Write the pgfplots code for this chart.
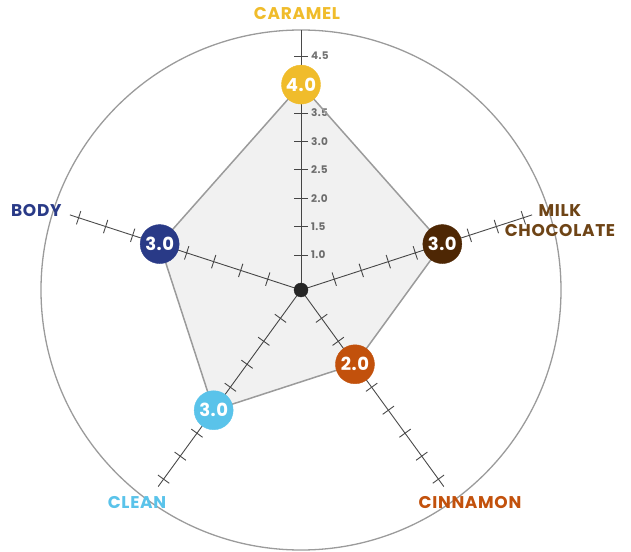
\documentclass[border=0pt]{standalone}
\usepackage{fontspec}
\setmainfont{Poppins}
\usepackage{pgfplots}
\pgfplotsset{compat=1.18}
\usepackage{pgfplotstable}

\definecolor{caramel}{HTML}{F0BC2B}
\definecolor{milkchoc}{HTML}{4E2704}
\definecolor{milklab}{HTML}{6E4416}
\definecolor{cinnamon}{HTML}{C2510C}
\definecolor{clean}{HTML}{5AC3EA}
\definecolor{body}{HTML}{293A87}
\definecolor{ringgray}{HTML}{9B9B9B}
\definecolor{spokegray}{HTML}{4A4A4A}
\definecolor{tickgray}{HTML}{737373}
\definecolor{dotc}{HTML}{262626}

\pgfplotstableread{
ang v
90 4.0
18 3.0
-54 2.0
-126 3.0
162 3.0
}\flavor

\pgfplotsset{
  /pgfplots/table/px/.style={
    x expr={(56.8*\thisrow{v}-21.8)*cos(\thisrow{ang})},
    y expr={(56.8*\thisrow{v}-21.8)*sin(\thisrow{ang})}},
  mk/.style={only marks, mark=*, mark size=19.5pt, draw=#1, fill=#1,
    visualization depends on={\thisrow{v}\as\val},
    nodes near coords={\pgfmathprintnumber[fixed,fixed zerofill,precision=1,assume math mode=true]{\val}},
    nodes near coords align=center,
    every node near coord/.append style={text=white, anchor=center, inner sep=0pt,
      font=\bfseries\fontsize{18}{18}\selectfont\addfontfeatures{LetterSpace=3}}}
}

\newcommand\catfont{\bfseries\fontsize{17}{17}\selectfont\addfontfeatures{LetterSpace=4}}

\begin{document}
\begin{tikzpicture}[x=1pt,y=1pt]
\useasboundingbox (-301,-261) rectangle (330,290);
% outer ring
\draw[ringgray, line width=1.3pt] (0,0) circle (260);
% spokes and ticks
\foreach \a/\len in {90/260,18/243,-54/243,-126/243,162/243} {
  \draw[spokegray, line width=0.9pt] (0,0) -- (\a:\len);
  \foreach \r in {35,63.4,91.8,120.2,148.6,177,205.4,233.8} {
    \draw[spokegray, line width=0.9pt, rotate=\a] (\r,-7) -- (\r,7);
  }
}
% tick labels on caramel spoke
\foreach \r/\t in {35/1.0,63.4/1.5,91.8/2.0,120.2/2.5,148.6/3.0,177/3.5,233.8/4.5} {
  \node[anchor=west, inner sep=0pt, text=tickgray, font=\bfseries\fontsize{10.5}{10.5}\selectfont\addfontfeatures{LetterSpace=3}] at (10,\r) {\t};
}
\begin{axis}[at={(0,0)}, anchor=origin, x=1pt, y=1pt,
  xmin=-301, xmax=330, ymin=-261, ymax=290,
  hide axis, clip=false]
% polygon
\addplot[draw=ringgray, line width=1.5pt, fill=black, fill opacity=0.055, mark=none, line join=round]
  table[px] {\flavor} -- cycle;
% centre dot
\addplot[only marks, mark=*, mark size=7pt, color=dotc] coordinates {(0,0)};
% markers
\addplot[mk=caramel]  table[px, skip coords between index={1}{5}] {\flavor};
\addplot[mk=milkchoc] table[px, skip coords between index={0}{1}, skip coords between index={2}{5}] {\flavor};
\addplot[mk=cinnamon] table[px, skip coords between index={0}{2}, skip coords between index={3}{5}] {\flavor};
\addplot[mk=clean]    table[px, skip coords between index={0}{3}, skip coords between index={4}{5}] {\flavor};
\addplot[mk=body]     table[px, skip coords between index={0}{4}] {\flavor};
\end{axis}
% category labels
\node[text=caramel, font=\catfont] at (-4,276) {CARAMEL};
\node[text=body, anchor=east, font=\catfont] at (-236,79) {BODY};
\node[text=milklab, align=center, font=\catfont] at (259,69.5) {MILK\\[3pt]CHOCOLATE};
\node[text=cinnamon, font=\catfont] at (169,-213) {CINNAMON};
\node[text=clean, font=\catfont] at (-164,-213) {CLEAN};
\end{tikzpicture}
\end{document}
